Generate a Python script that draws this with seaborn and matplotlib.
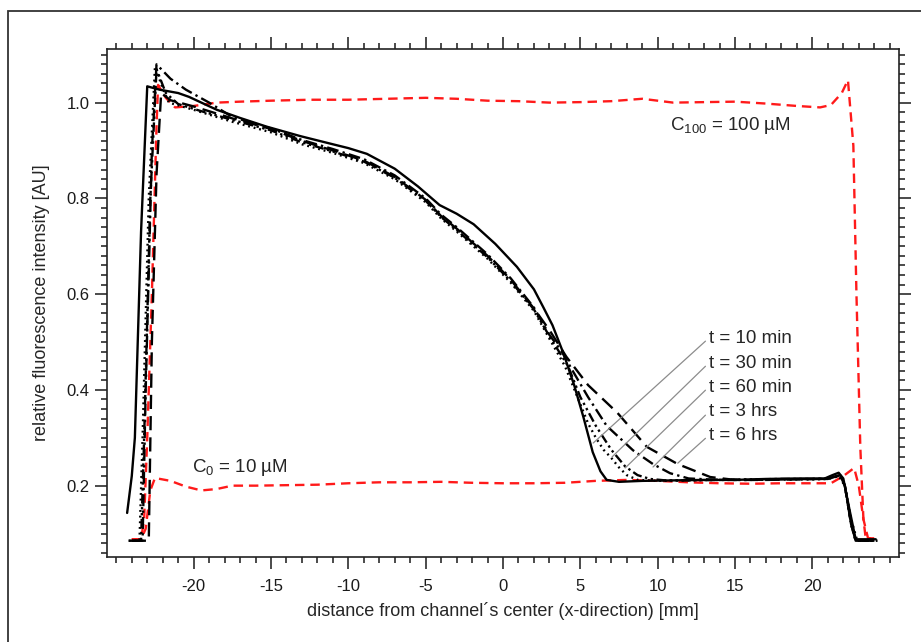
import pandas as pd
import seaborn as sns
import matplotlib.pyplot as plt
from matplotlib.patches import Rectangle
from matplotlib.ticker import MultipleLocator

# --- data ---
# black curves (profiles at different times)
x_10min = [-24.3, -24.0, -23.8, -23.4, -23.0, -22.2, -21.0, -20.3, -18.5, -17.0, -15.3, -13.1, -11.0,
           -10.0, -8.8, -7.0, -5.5, -4.1, -3.0, -1.9, -0.5, 0.9, 2.0, 2.6, 3.2, 3.9, 4.6, 5.2, 5.8,
           6.3, 6.7, 7.5, 9.0, 11.0, 13.0, 15.0, 17.0, 19.0, 20.8, 21.3, 21.7, 22.0, 22.4, 22.8,
           23.5, 24.1]
y_10min = [0.143, 0.22, 0.30, 0.73, 1.034, 1.027, 1.02, 1.012, 0.985, 0.968, 0.95, 0.93, 0.913,
           0.905, 0.893, 0.862, 0.825, 0.786, 0.768, 0.746, 0.705, 0.657, 0.61, 0.573, 0.535, 0.477,
           0.41, 0.343, 0.27, 0.23, 0.212, 0.208, 0.21, 0.211, 0.212, 0.212, 0.214, 0.215, 0.215,
           0.222, 0.227, 0.215, 0.15, 0.088, 0.088, 0.088]

x_30min = [-24.2, -23.5, -23.3, -22.9, -22.5, -22.0, -21.6, -20.0, -17.5, -15.0, -13.0, -11.0, -9.0,
           -7.0, -5.0, -4.0, -3.0, -1.0, 0.5, 2.0, 3.0, 4.0, 5.0, 5.5, 6.0, 6.5, 7.0, 7.5, 8.0, 8.7,
           10.0, 12.0, 14.0, 16.0, 18.0, 20.0, 21.0, 21.7, 22.1, 22.5, 22.9, 24.2]
y_30min = [0.085, 0.085, 0.3, 0.8, 1.075, 1.03, 1.0, 0.985, 0.96, 0.938, 0.913, 0.895, 0.874,
           0.84, 0.792, 0.758, 0.731, 0.674, 0.624, 0.565, 0.507, 0.45, 0.37, 0.33, 0.30, 0.275,
           0.258, 0.238, 0.222, 0.212, 0.21, 0.211, 0.212, 0.212, 0.213, 0.213, 0.214, 0.22, 0.2,
           0.13, 0.085, 0.085]

x_60min = [-24.2, -23.4, -23.2, -22.8, -22.4, -21.8, -21.0, -19.5, -17.5, -15.0, -13.0, -11.0, -9.0,
           -7.0, -5.0, -4.0, -3.0, -1.0, 0.5, 2.0, 3.0, 4.2, 5.0, 6.0, 7.0, 7.9, 8.7, 9.5, 10.5,
           12.0, 14.0, 16.0, 18.0, 20.0, 21.0, 21.8, 22.1, 22.5, 22.8, 24.2]
y_60min = [0.085, 0.085, 0.3, 0.8, 1.07, 1.02, 0.997, 0.982, 0.964, 0.942, 0.917, 0.898, 0.877,
           0.843, 0.795, 0.761, 0.734, 0.677, 0.627, 0.568, 0.512, 0.45, 0.385, 0.325, 0.275, 0.24,
           0.222, 0.214, 0.211, 0.211, 0.212, 0.213, 0.214, 0.214, 0.215, 0.222, 0.2, 0.12, 0.085, 0.085]

x_3hrs = [-24.0, -23.3, -23.1, -22.7, -22.4, -21.5, -20.5, -19.0, -17.5, -15.0, -13.0, -11.0, -9.0,
          -7.0, -5.0, -4.0, -3.0, -1.0, 0.5, 2.0, 3.0, 3.8, 4.5, 5.5, 6.7, 8.4, 9.7, 10.8, 12.0,
          14.0, 16.0, 18.0, 20.0, 21.0, 21.8, 22.1, 22.5, 22.8, 24.0]
y_3hrs = [0.085, 0.085, 0.4, 0.9, 1.08, 1.05, 1.027, 1.0, 0.97, 0.946, 0.922, 0.903, 0.882,
          0.848, 0.8, 0.766, 0.74, 0.683, 0.633, 0.572, 0.515, 0.48, 0.44, 0.385, 0.325, 0.274,
          0.245, 0.226, 0.215, 0.212, 0.212, 0.213, 0.214, 0.214, 0.221, 0.2, 0.12, 0.085, 0.085]

x_6hrs = [-24.0, -22.9, -22.7, -22.4, -22.1, -21.5, -20.0, -17.5, -15.0, -13.0, -11.0, -9.0, -7.0,
          -5.0, -4.0, -3.0, -1.0, 0.5, 2.0, 3.0, 4.1, 5.5, 7.4, 9.3, 11.3, 13.4, 15.0, 17.0, 19.0,
          20.5, 21.2, 21.8, 22.1, 22.5, 22.8, 24.0]
y_6hrs = [0.085, 0.085, 0.5, 0.85, 1.02, 1.005, 0.992, 0.967, 0.945, 0.92, 0.9, 0.879, 0.845,
          0.797, 0.763, 0.737, 0.68, 0.63, 0.57, 0.525, 0.469, 0.41, 0.352, 0.281, 0.245, 0.218,
          0.212, 0.212, 0.213, 0.214, 0.216, 0.222, 0.2, 0.12, 0.085, 0.085]

# red reference curves
x_c100 = [-24.0, -23.4, -23.2, -23.0, -22.7, -22.4, -22.3, -21.8, -21.2, -20.0, -18.5, -17.0, -15.0,
          -12.5, -10.0, -7.5, -5.0, -3.0, -1.0, 1.0, 3.0, 5.0, 7.0, 9.0, 11.0, 13.0, 15.0, 17.0,
          19.0, 20.5, 21.2, 21.9, 22.3, 22.65, 22.85, 23.1, 23.3, 23.45, 24.0]
y_c100 = [0.088, 0.088, 0.13, 0.3, 0.6, 0.95, 1.037, 1.01, 0.99, 0.993, 1.0, 1.002, 1.004,
          1.006, 1.006, 1.008, 1.01, 1.008, 1.004, 1.003, 1.0, 1.001, 1.003, 1.008, 1.0, 1.001,
          1.002, 0.998, 0.993, 0.99, 0.995, 1.02, 1.047, 0.91, 0.6, 0.28, 0.13, 0.09, 0.09]

x_c0 = [-24.0, -23.4, -23.1, -22.8, -22.5, -21.5, -20.5, -19.5, -18.5, -17.5, -16.0, -14.0, -12.0,
        -10.0, -8.0, -6.0, -4.0, -2.0, 0.0, 2.0, 4.0, 6.0, 8.0, 10.0, 12.0, 14.0, 16.0, 18.0,
        20.0, 21.2, 22.0, 22.7, 23.0, 23.3, 23.6, 24.0]
y_c0 = [0.088, 0.088, 0.11, 0.19, 0.216, 0.21, 0.198, 0.19, 0.193, 0.2, 0.2, 0.201, 0.202,
        0.205, 0.207, 0.207, 0.208, 0.206, 0.205, 0.205, 0.206, 0.21, 0.212, 0.21, 0.207, 0.205,
        0.204, 0.205, 0.205, 0.205, 0.22, 0.237, 0.2, 0.13, 0.09, 0.09]

# annotation labels: text position and point on curve
time_labels = ["t = 10 min", "t = 30 min", "t = 60 min", "t = 3 hrs", "t = 6 hrs"]
label_x = [13.3, 13.3, 13.3, 13.3, 13.3]
label_y = [0.508, 0.456, 0.406, 0.354, 0.305]
point_x = [5.83, 7.05, 7.9, 9.7, 11.3]
point_y = [0.289, 0.26, 0.237, 0.239, 0.247]

# --- build long-form table ---
series = {
    "10min": (x_10min, y_10min),
    "30min": (x_30min, y_30min),
    "60min": (x_60min, y_60min),
    "3hrs": (x_3hrs, y_3hrs),
    "6hrs": (x_6hrs, y_6hrs),
    "C100": (x_c100, y_c100),
    "C0": (x_c0, y_c0),
}
frames = []
for name, (xs, ys) in series.items():
    frames.append(pd.DataFrame({"x": xs, "y": ys, "series": name}))
df = pd.concat(frames, ignore_index=True)

palette = {"10min": "black", "30min": "black", "60min": "black", "3hrs": "black",
           "6hrs": "black", "C100": "#ff1a1a", "C0": "#ff1a1a"}
dashes = {"10min": "", "30min": (0.8, 1.6), "60min": (4, 1.5, 1, 1.5, 1, 1.5),
          "3hrs": (5, 1.8, 1, 1.8), "6hrs": (6, 3), "C100": (4, 2.5), "C0": (4, 2.5)}

# --- figure ---
sns.set_style("ticks")
plt.rcParams["font.family"] = ["Liberation Sans", "DejaVu Sans"]
plt.rcParams["mathtext.default"] = "regular"

fig = plt.figure(figsize=(9.21, 6.42), dpi=100)
ax = fig.add_axes([0.1162, 0.1324, 0.8599, 0.7913])

order = ["C100", "C0", "6hrs", "3hrs", "60min", "30min", "10min"]
sns.lineplot(data=df, x="x", y="y", hue="series", style="series", hue_order=order,
             style_order=order, palette=palette, dashes=dashes, sort=False, estimator=None,
             linewidth=1.7, legend=False, ax=ax)

for lab, tx, ty, px, py in zip(time_labels, label_x, label_y, point_x, point_y):
    ax.annotate(lab, xy=(px, py), xytext=(tx, ty), fontsize=13.5, ha="left", va="center",
                arrowprops=dict(arrowstyle="-", color="#8c8c8c", lw=0.9,
                                shrinkA=0, shrinkB=0, relpos=(0, 0.5)))

ax.text(10.8, 0.953, "C$_{100}$ = 100 µM", fontsize=13.5, ha="left", va="center")
ax.text(-20.1, 0.237, "C$_{0}$ = 10 µM", fontsize=13.5, ha="left", va="center")

ax.set_xlim(-25.6, 25.6)
ax.set_ylim(0.051, 1.112)
ax.xaxis.set_minor_locator(MultipleLocator(1))
ax.yaxis.set_minor_locator(MultipleLocator(0.02))
ax.set_xticks([-20, -15, -10, -5, 0, 5, 10, 15, 20])
ax.set_yticks([0.2, 0.4, 0.6, 0.8, 1.0])
ax.set_xticklabels(["-20", "-15", "-10", "-5", "0", "5", "10", "15", "20"])
ax.set_yticklabels(["0.2", "0.4", "0.6", "0.8", "1.0"])

ax.tick_params(which="both", direction="out", top=True, right=True, width=1.1,
               labelsize=12, colors="#1a1a1a")
ax.tick_params(which="major", length=8.5, pad=4)
ax.tick_params(which="minor", length=4.5)
ax.tick_params(axis="x", which="major", pad=7)
for sp in ax.spines.values():
    sp.set_visible(True)
    sp.set_linewidth(1.2)
    sp.set_color("#222222")

ax.set_xlabel("distance from channel´s center (x-direction) [mm]", fontsize=13, labelpad=6)
ax.set_ylabel("relative fluorescence intensity [AU]", fontsize=13, labelpad=12)

# outer frame of the original figure
fig.patches.append(Rectangle((8 / 921, -0.1), 1.2, 0.1 + 1 - 11 / 642, transform=fig.transFigure,
                             fill=False, edgecolor="#333333", lw=1.3))

plt.savefig("out.png", dpi=100)
plt.close()
